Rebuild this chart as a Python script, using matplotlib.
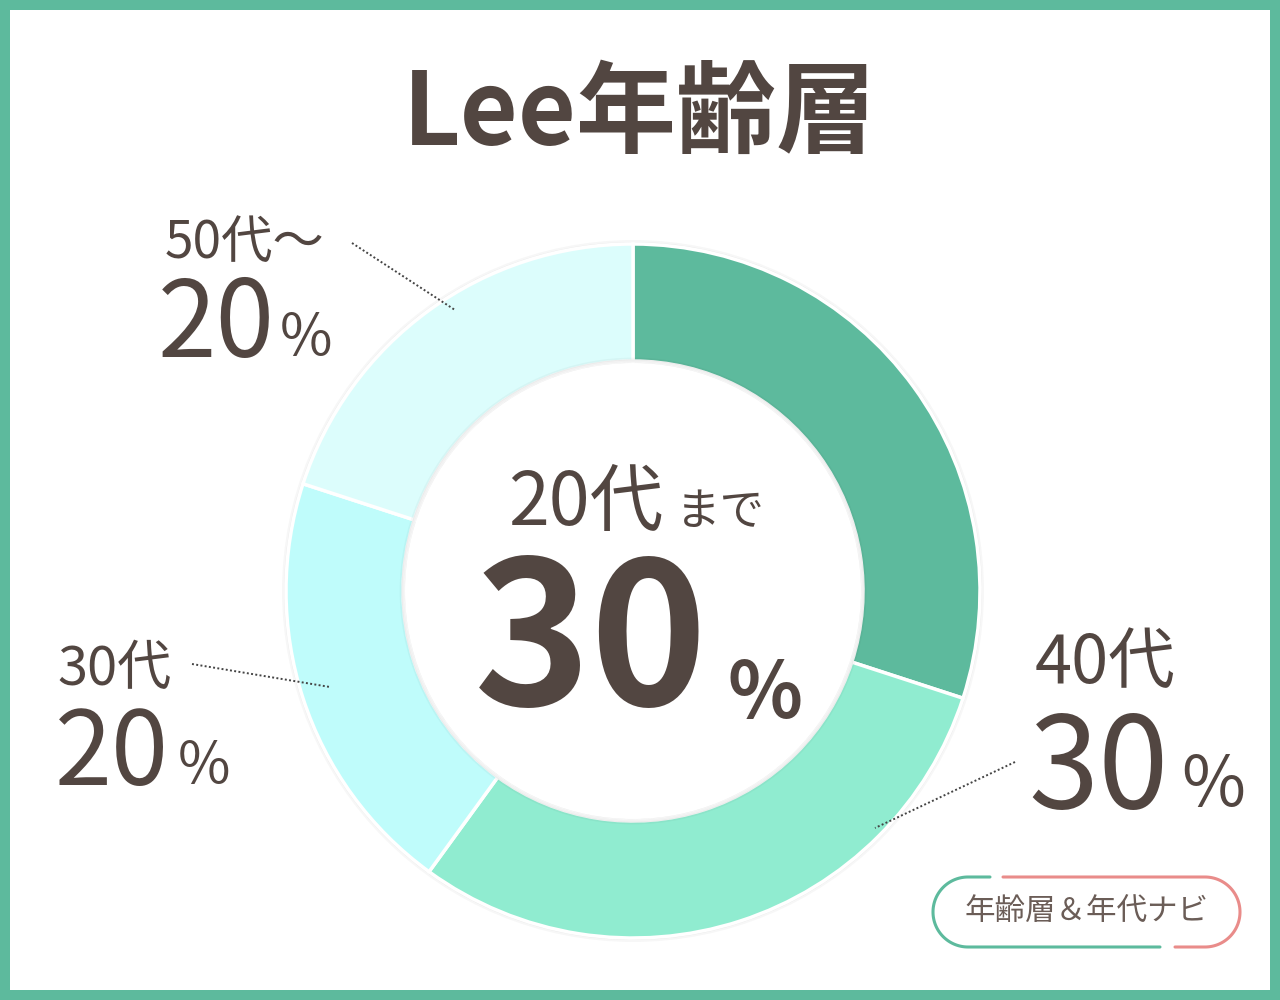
import numpy as np
import matplotlib.pyplot as plt
from matplotlib.patches import Rectangle, Circle

plt.rcParams['font.family'] = ['Noto Sans CJK JP', 'DejaVu Sans']

# data
labels = ['20代まで', '40代', '30代', '50代～']
values = [30, 30, 20, 20]
colors = ['#5dba9d', '#90ecd0', '#bffcfb', '#dcfdfc']
title = 'Lee年齢層'
badge = '年齢層＆年代ナビ'

txt = '#524641'
W, H = 1280, 1000

fig = plt.figure(figsize=(12.8, 10), dpi=100)
fig.patch.set_facecolor('#5dba9d')
ax = fig.add_axes([0, 0, 1, 1])

def Y(y):  # pixel row from top -> data y
    return H - y

cx, cy, R = 633, Y(591), 347
# faint shadow around the ring
for dr, a in [(4, 0.03), (2, 0.05)]:
    ax.add_patch(Circle((cx, cy), R + dr, facecolor='black', alpha=a,
                        edgecolor='none', zorder=0))
ax.pie(values, colors=colors, startangle=90, counterclock=False,
       center=(cx, cy), radius=R,
       wedgeprops=dict(width=117, edgecolor='white', linewidth=2.5, zorder=1))
for dr, a in [(0, 0.05), (2, 0.03)]:
    ax.add_patch(Circle((cx, cy), R - 117 + dr, facecolor='none', alpha=a,
                        edgecolor='black', lw=2, zorder=2))
ax.add_patch(Circle((cx, cy), R - 119, facecolor='white', edgecolor='none',
                    zorder=3))
ax.set_xlim(0, W)
ax.set_ylim(0, H)
ax.set_aspect('equal')
ax.axis('off')
ax.add_patch(Rectangle((10, 10), W - 20, H - 20, facecolor='white',
                       edgecolor='none', zorder=-5))

# title
ax.text(640, Y(145), title, ha='center', va='baseline', fontsize=72,
        fontweight='bold', color=txt)

# center label
ax.text(508, Y(525), '20代', ha='left', va='baseline', fontsize=53, color=txt,
        zorder=5)
ax.text(676, Y(525), 'まで', ha='left', va='baseline', fontsize=32, color=txt,
        zorder=5)
ax.text(474, Y(705), '30', ha='left', va='baseline', fontsize=143,
        fontweight='bold', color=txt, zorder=5)
ax.text(728, Y(718), '%', ha='left', va='baseline', fontsize=56,
        fontweight='bold', color=txt, zorder=5)

# outer labels: (name, value, name pos, value pos, % pos, sizes, leader)
outer = [
    ('50代～', '20', (165, 258), (158, 357), (280, 355), (37, 76, 41),
     ((352, 243), (455, 310))),
    ('30代', '20', (57, 685), (55, 785), (178, 783), (39, 74, 41),
     ((192, 664), (330, 687))),
    ('40代', '30', (1035, 683), (1028, 808), (1181, 806), (48, 91, 50),
     ((1015, 762), (875, 828))),
]
for name, val, pn, pv, pp, (s1, s2, s3), (a, b) in outer:
    ax.text(pn[0], Y(pn[1]), name, ha='left', va='baseline', fontsize=s1, color=txt)
    ax.text(pv[0], Y(pv[1]), val, ha='left', va='baseline', fontsize=s2, color=txt)
    ax.text(pp[0], Y(pp[1]), '%', ha='left', va='baseline', fontsize=s3, color=txt)
    ax.plot([a[0], b[0]], [Y(a[1]), Y(b[1])], color='#444444', lw=1.4,
            linestyle=(0, (1, 1.2)), zorder=6)

# badge pill
r = 35
lc, rc, yc = 968, 1205, Y(912)
t = np.linspace(np.pi / 2, 3 * np.pi / 2, 60)
gx = np.concatenate([[990], lc + r * np.cos(t), [1160]])
gy = np.concatenate([[yc + r], yc + r * np.sin(t), [yc - r]])
ax.plot(gx, gy, color='#5dba9d', lw=2.2, solid_capstyle='round')
t2 = np.linspace(np.pi / 2, -np.pi / 2, 60)
px = np.concatenate([[1003], rc + r * np.cos(t2), [1175]])
py = np.concatenate([[yc + r], yc + r * np.sin(t2), [yc - r]])
ax.plot(px, py, color='#e98c8a', lw=2.2, solid_capstyle='round')
ax.text((lc + rc) / 2, yc, badge, ha='center', va='center', fontsize=22,
        color='#6b5d57')

fig.savefig('out.png', dpi=100, facecolor=fig.get_facecolor())
